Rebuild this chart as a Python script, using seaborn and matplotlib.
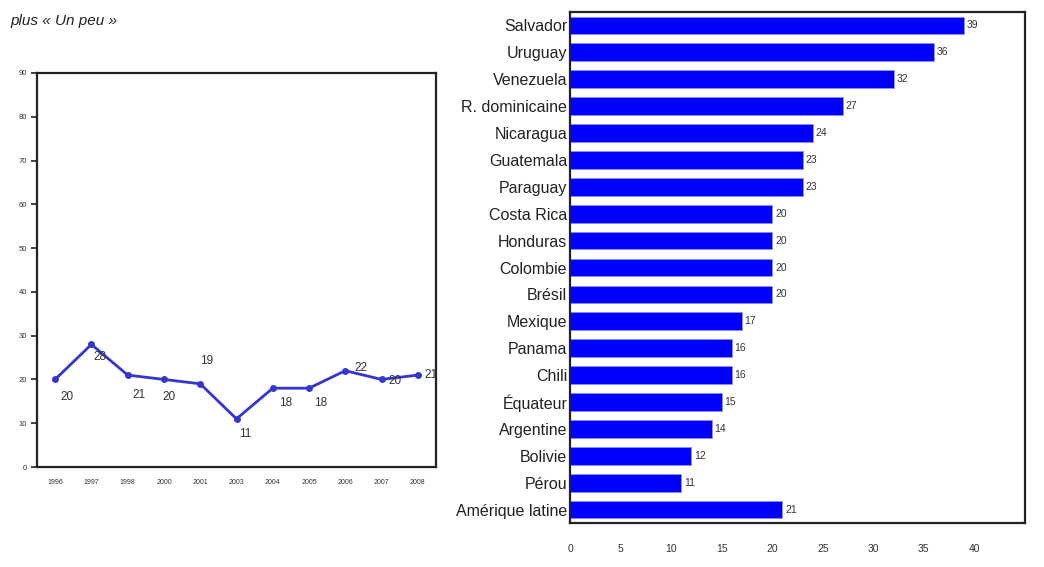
import matplotlib
matplotlib.use("Agg")
import matplotlib.pyplot as plt
import seaborn as sns
import pandas as pd
import numpy as np

# ---- data ----
years = ["1996", "1997", "1998", "2000", "2001", "2003", "2004", "2005", "2006", "2007", "2008"]
trend = [20, 28, 21, 20, 19, 11, 18, 18, 22, 20, 21]

countries = ["Salvador", "Uruguay", "Venezuela", "R. dominicaine", "Nicaragua", "Guatemala",
             "Paraguay", "Costa Rica", "Honduras", "Colombie", "Brésil", "Mexique", "Panama",
             "Chili", "Équateur", "Argentine", "Bolivie", "Pérou", "Amérique latine"]
shares = [39, 36, 32, 27, 24, 23, 23, 20, 20, 20, 20, 17, 16, 16, 15, 14, 12, 11, 21]

yticks_left = [0, 10, 20, 30, 40, 50, 60, 70, 80, 90]
xticks_right = [0, 5, 10, 15, 20, 25, 30, 35, 40, 45]

sns.set_theme(style="white")
plt.rcParams['font.family'] = ['Liberation Sans', 'DejaVu Sans']

W, H = 1044, 567
fig = plt.figure(figsize=(W / 100, H / 100), dpi=100)

def px_axes(x0, y0, x1, y1):
    return fig.add_axes([x0 / W, 1 - y1 / H, (x1 - x0) / W, (y1 - y0) / H])

# caption
fig.text(10 / W, 1 - 21 / H, "plus « Un peu »", fontsize=11, style="italic",
         color="#222222", va="center", ha="left")

# ---- left line chart ----
axL = px_axes(37, 73, 436, 467)
dfL = pd.DataFrame({"year": years, "val": trend})
sns.lineplot(data=dfL, x="year", y="val", ax=axL, color="#3535d0", marker="o",
             markersize=5, markeredgewidth=0, linewidth=2, sort=False)
axL.set_xlim(-0.5, len(years) - 0.5)
axL.set_ylim(0, 90)
axL.set_yticks(yticks_left)
axL.set_yticklabels([str(v) for v in yticks_left], fontsize=5.5, color="#333333")
axL.set_xticks(np.arange(len(years)))
axL.set_xticklabels(years, fontsize=5, color="#333333")
axL.set_xticks(np.arange(-0.5, len(years), 1.0), minor=True)
axL.tick_params(axis="x", which="major", length=0, pad=9)
axL.tick_params(axis="x", which="minor", length=4, width=1.2, color="#222222", direction="inout")
axL.tick_params(axis="y", which="major", length=4, width=1.2, color="#222222", direction="out", left=True, pad=3)
axL.set_xlabel("")
axL.set_ylabel("")
for s in axL.spines.values():
    s.set_color("#222222")
    s.set_linewidth(1.6)

offsets = [(8.6, -13), (6.5, -9.4), (8, -14), (3.6, -13), (4.3, 16.5), (6.5, -11),
           (9.4, -11), (8, -11), (11.5, 2), (10, -1.4), (9.4, 0)]
for i, (v, off) in enumerate(zip(trend, offsets)):
    axL.annotate(str(v), (i, v), xytext=off, textcoords="offset points",
                 fontsize=8.5, color="#333333", ha="center", va="center")

# ---- right bar chart ----
axR = px_axes(570, 12, 1025, 523)
dfR = pd.DataFrame({"pays": countries, "val": shares})
sns.barplot(data=dfR, x="val", y="pays", ax=axR, color="#0000ff", orient="h",
            width=0.66, saturation=1, edgecolor="#9090ff", linewidth=0.5)
axR.set_xlim(0, 45)
axR.set_ylim(len(countries) - 0.5, -0.5)
axR.set_xticks(xticks_right)
axR.set_xticklabels([str(v) if v < 45 else "" for v in xticks_right], fontsize=7.5, color="#333333")
axR.tick_params(axis="x", length=6, width=1.2, color="#222222", direction="inout", pad=12)
axR.set_yticks(np.arange(len(countries)))
axR.set_yticklabels(countries, fontsize=11.5, color="#222222")
axR.tick_params(axis="y", which="major", length=0, pad=2)
axR.set_yticks(np.arange(-0.5, len(countries), 1.0), minor=True)
axR.tick_params(axis="y", which="minor", length=3, width=1.2, color="#222222", direction="out")
axR.set_xlabel("")
axR.set_ylabel("")
for s in axR.spines.values():
    s.set_color("#222222")
    s.set_linewidth(1.6)
for c in axR.containers:
    axR.bar_label(c, labels=[str(v) for v in shares], fontsize=7.5, color="#333333", padding=2)

fig.savefig("out.png", dpi=100, facecolor="white")
